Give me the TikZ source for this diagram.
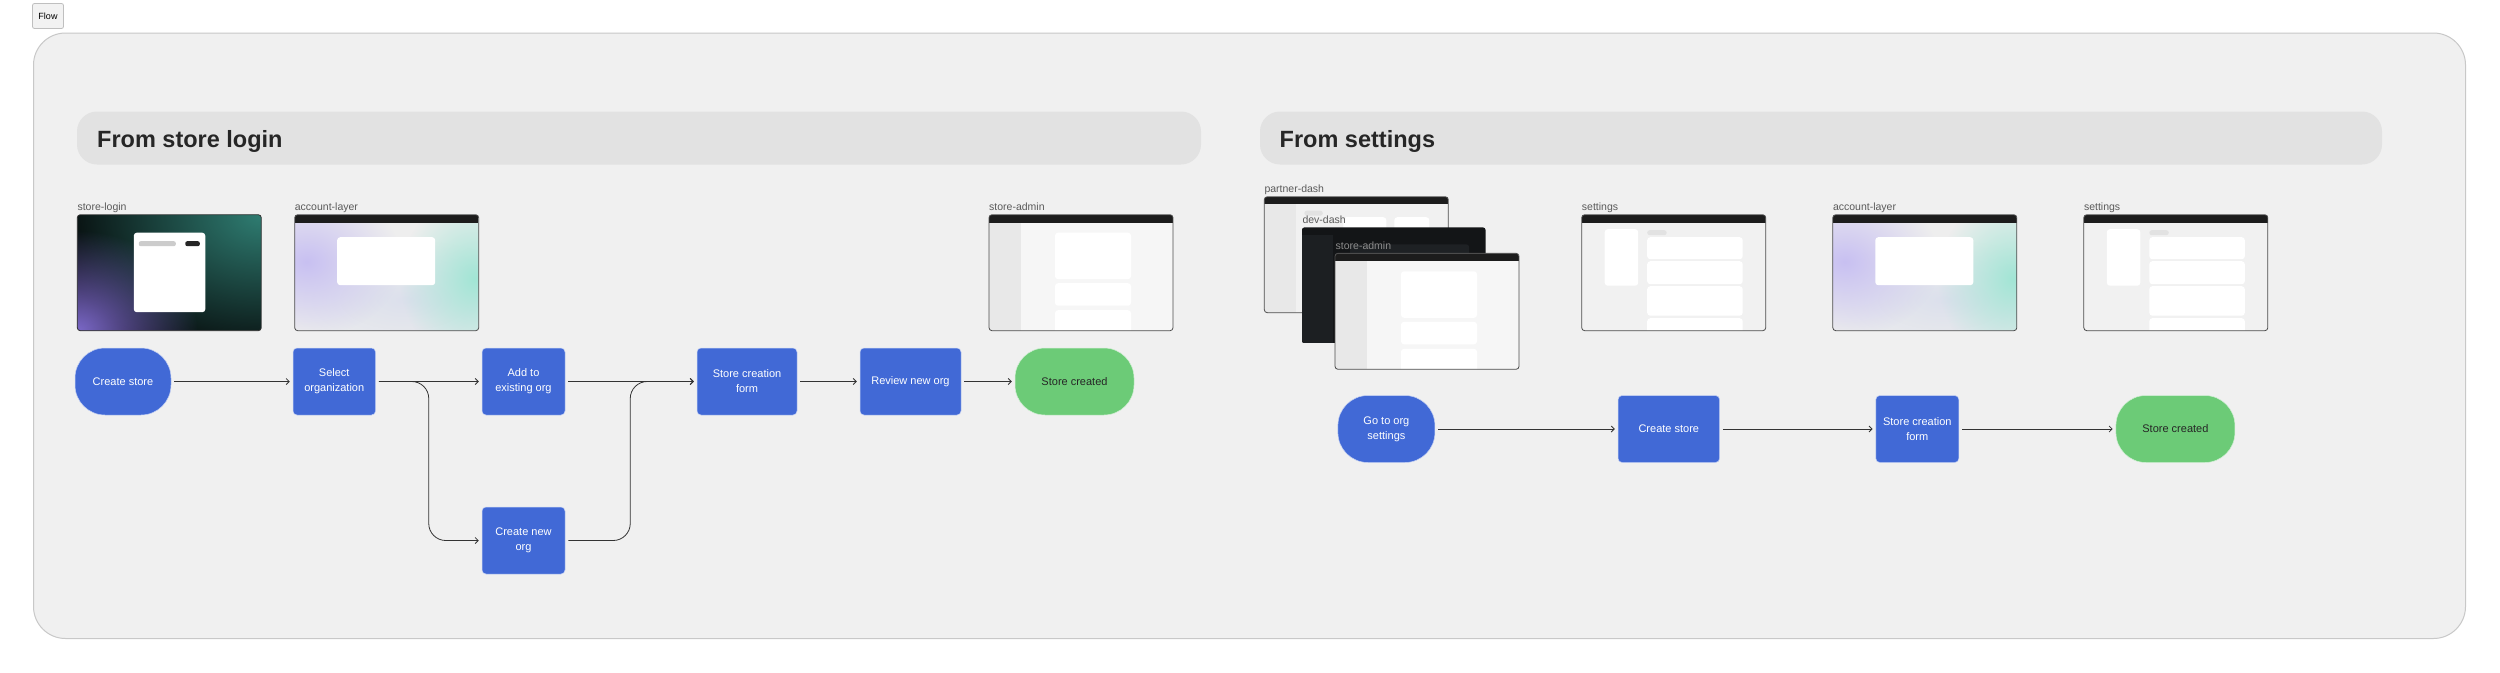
\documentclass[tikz,border=0pt]{standalone}
\usepackage{fontspec}
\setmainfont{Liberation Sans}
\usetikzlibrary{positioning, arrows.meta, fadings}

\definecolor{framebg}{HTML}{F0F0F0}
\definecolor{frameline}{HTML}{C8C8C8}
\definecolor{bannerbg}{HTML}{E2E2E2}
\definecolor{flowblue}{HTML}{4169D6}
\definecolor{flowgreen}{HTML}{6CCB77}
\definecolor{labelgray}{HTML}{5A5A5A}
\definecolor{barblack}{HTML}{1C1C1C}
\definecolor{adminbg}{HTML}{F6F6F6}
\definecolor{adminside}{HTML}{E8E8E8}
\definecolor{settingsbg}{HTML}{F1F1F1}
\definecolor{pillgray}{HTML}{E2E2E2}
\definecolor{accountbg}{HTML}{EEEEEE}
\definecolor{loginbg}{HTML}{050607}
\definecolor{loginteal}{HTML}{2F7D72}
\definecolor{loginpurple}{HTML}{7B68C8}
\definecolor{blobpurple}{HTML}{C8C0F2}
\definecolor{blobteal}{HTML}{A2E5D5}
\definecolor{blobblue}{HTML}{DCE0EC}
\definecolor{devbg}{HTML}{131517}
\definecolor{devside}{HTML}{1C1F22}
\definecolor{devcard}{HTML}{1E2124}

\tikzfading[name=blob, inner color=transparent!0, outer color=transparent!100]

\begin{document}
\begin{tikzpicture}[x=1pt, y=-1pt, on grid, node distance=200pt]
    \tikzset{
        stepnode/.style={rectangle, rounded corners=4pt, fill=flowblue, draw=white!70!flowblue, line width=0.5pt,
            text=white, minimum height=67pt, align=center, inner sep=0pt, font=\fontsize{11}{15}\selectfont},
        endnode/.style={stepnode, rounded corners=30pt},
        donenode/.style={endnode, fill=flowgreen, draw=white!70!flowgreen, text=black!85},
        winlabel/.style={anchor=base west, inner sep=0pt, text=labelgray, font=\fontsize{10.5}{12}\selectfont},
        titletext/.style={anchor=base west, inner sep=0pt, text=black!85, font=\fontsize{23.5}{28}\selectfont\bfseries},
        tabnode/.style={rectangle, rounded corners=2pt, fill=black!5, draw=black!25, line width=0.8pt,
            minimum width=31pt, minimum height=25pt, font=\fontsize{9}{10}\selectfont},
        flow/.style={-{Straight Barb[length=3pt, width=6pt]}, draw=black!80, line width=0.8pt,
            shorten >=3pt, shorten <=3pt},
        winframe/.style={draw=black!70, line width=0.8pt, rounded corners=3pt},
        card/.style={fill=white, rounded corners=3pt},
        winclip/.style={rounded corners=3pt},
        % window thumbnails
        loginwin/.pic={
            \begin{scope}
                \clip[winclip] (0,0) rectangle (184,116);
                \fill[loginbg] (0,0) rectangle (184,116);
                \fill[loginteal, path fading=blob] (184,0) ellipse (210pt and 150pt);
                \fill[loginpurple, path fading=blob] (0,116) ellipse (120pt and 100pt);
                \fill[card] (56.5,18) rectangle (128,97.5);
                \fill[black!20, rounded corners=2pt] (61.5,26.5) rectangle (98.5,31.5);
                \fill[black!85, rounded corners=2pt] (108,26.5) rectangle (122.5,31.5);
            \end{scope}
            \draw[winframe, draw=black!80] (0,0) rectangle (184,116);
        },
        accountwin/.pic={
            \begin{scope}
                \clip[winclip] (0,0) rectangle (184,116);
                \fill[accountbg] (0,0) rectangle (184,116);
                \fill[blobblue, path fading=blob] (110,85) ellipse (130pt and 60pt);
                \fill[blobpurple, path fading=blob] (12,47) ellipse (95pt and 75pt);
                \fill[blobteal, path fading=blob] (180,64) ellipse (75pt and 85pt);
                \fill[card] (42.5,22.5) rectangle (140.5,70.5);
                \fill[barblack] (0,0) rectangle (184,8);
            \end{scope}
            \draw[winframe] (0,0) rectangle (184,116);
        },
        adminwin/.pic={
            \begin{scope}
                \clip[winclip] (0,0) rectangle (184,116);
                \fill[adminbg] (0,0) rectangle (184,116);
                \fill[adminside] (0,8) rectangle (32,116);
                \foreach \top/\bot in {18/64.5, 68.5/91, 95.5/125}
                    \fill[card] (66,\top) rectangle (142,\bot);
                \fill[barblack] (0,0) rectangle (184,8);
            \end{scope}
            \draw[winframe] (0,0) rectangle (184,116);
        },
        settingswin/.pic={
            \begin{scope}
                \clip[winclip] (0,0) rectangle (184,116);
                \fill[settingsbg] (0,0) rectangle (184,116);
                \fill[card] (23,14.5) rectangle (56.5,71);
                \fill[pillgray, rounded corners=2.5pt] (65.5,15.5) rectangle (85,20.5);
                \foreach \top/\bot in {22.5/44.5, 46.5/69.5, 71.5/101, 103.5/125}
                    \fill[card] (65.5,\top) rectangle (161,\bot);
                \fill[barblack] (0,0) rectangle (184,8);
            \end{scope}
            \draw[winframe] (0,0) rectangle (184,116);
        },
        partnerwin/.pic={
            \begin{scope}
                \clip[winclip] (0,0) rectangle (184,116);
                \fill[settingsbg] (0,0) rectangle (184,116);
                \fill[adminside] (0,7) rectangle (32,116);
                \fill[pillgray, rounded corners=2.5pt] (40,14) rectangle (58.5,19);
                \fill[card] (79,20.5) rectangle (122,60);
                \fill[card] (130,20.5) rectangle (165,60);
                \fill[barblack] (0,0) rectangle (184,7);
            \end{scope}
            \draw[winframe] (0,0) rectangle (184,116);
        },
        devwin/.pic={
            \begin{scope}
                \clip[winclip] (0,0) rectangle (184,116);
                \fill[devbg] (0,0) rectangle (184,116);
                \fill[devside] (0,8) rectangle (31.5,116);
                \fill[devcard, rounded corners=3pt] (48.5,17) rectangle (167.5,60);
            \end{scope}
        }
    }

    % CANVAS
    \useasboundingbox (0,0) rectangle (2500,672);
    \fill[white] (0,0) rectangle (2500,672);
    \node[tabnode] (tab) at (48,16) {Flow};
    \draw[fill=framebg, draw=frameline, line width=1pt, rounded corners=32pt] (33.5,33) rectangle (2465.5,638.5);

    % BANNERS
    \fill[bannerbg, rounded corners=20pt] (77,111.5) rectangle (1201,164.5);
    \fill[bannerbg, rounded corners=20pt] (1260,111.5) rectangle (2382,164.5);
    \node[titletext] (title1) at (97,147) {From store login};
    \node[titletext] (title2) at (1279.5,147) {From settings};

    % SCREENS - FROM STORE LOGIN
    \pic at (77.3,214.7) {loginwin};
    \pic at (294.7,214.7) {accountwin};
    \pic at (989,214.7) {adminwin};
    \node[winlabel] (lbllogin) at (77.3,210.5) {store-login};
    \node[winlabel] (lblaccount) at (294.7,210.5) {account-layer};
    \node[winlabel] (lbladmin) at (989,210.5) {store-admin};

    % SCREENS - FROM SETTINGS
    \pic at (1264.3,196.7) {partnerwin};
    \node[winlabel] (lblpartner) at (1264.3,192.5) {partner-dash};
    \pic at (1301.7,227.3) {devwin};
    \node[winlabel] (lbldev) at (1302.3,223) {dev-dash};
    \pic at (1335,253.3) {adminwin};
    \node[winlabel, text=black!45] (lbladmintwo) at (1335.5,249.5) {store-admin};
    \pic at (1581.7,214.7) {settingswin};
    \pic at (1832.8,214.7) {accountwin};
    \pic at (2083.8,214.7) {settingswin};
    \node[winlabel] (lblsettings) at (1581.7,210.5) {settings};
    \node[winlabel] (lblaccounttwo) at (1832.8,210.5) {account-layer};
    \node[winlabel] (lblsettingstwo) at (2083.8,210.5) {settings};

    % STEPS - FROM STORE LOGIN
    \node[endnode, minimum width=96pt] (cs) at (123,381.5) {Create store};
    \node[stepnode, minimum width=82.5pt] (sel) [right=211.25pt of cs] {Select\\organization};
    \node[stepnode, minimum width=83pt] (ate) [right=189.25pt of sel] {Add to\\existing org};
    \node[stepnode, minimum width=83pt] (cno) [below=159pt of ate] {Create new\\org};
    \node[stepnode, minimum width=100pt] (scf) [right=223.5pt of ate] {Store creation\\form};
    \node[stepnode, minimum width=101pt] (rno) [right=163.5pt of scf] {Review new org};
    \node[donenode, minimum width=119pt] (sc) [right=164pt of rno] {Store created};

    % STEPS - FROM SETTINGS
    \node[endnode, minimum width=97pt] (gto) at (1386.4,429) {Go to org\\settings};
    \node[stepnode, minimum width=101.5pt] (cstwo) [right=282.4pt of gto] {Create store};
    \node[stepnode, minimum width=83pt] (scftwo) [right=248.5pt of cstwo] {Store creation\\form};
    \node[donenode, minimum width=119pt] (sctwo) [right=258.1pt of scftwo] {Store created};

    % TRANSITIONS
    \draw[flow] (cs) -- (sel);
    \draw[flow] (sel) -- (ate);
    \draw[flow, rounded corners=17pt] (sel.east) -- ++(53,0) |- (cno.west);
    \draw[flow] (ate) -- (scf);
    \draw[flow, rounded corners=17pt] (cno.east) -- ++(65,0) |- (scf.west);
    \draw[flow] (scf) -- (rno);
    \draw[flow] (rno) -- (sc);

    \draw[flow] (gto) -- (cstwo);
    \draw[flow] (cstwo) -- (scftwo);
    \draw[flow] (scftwo) -- (sctwo);

\end{tikzpicture}
\end{document}
